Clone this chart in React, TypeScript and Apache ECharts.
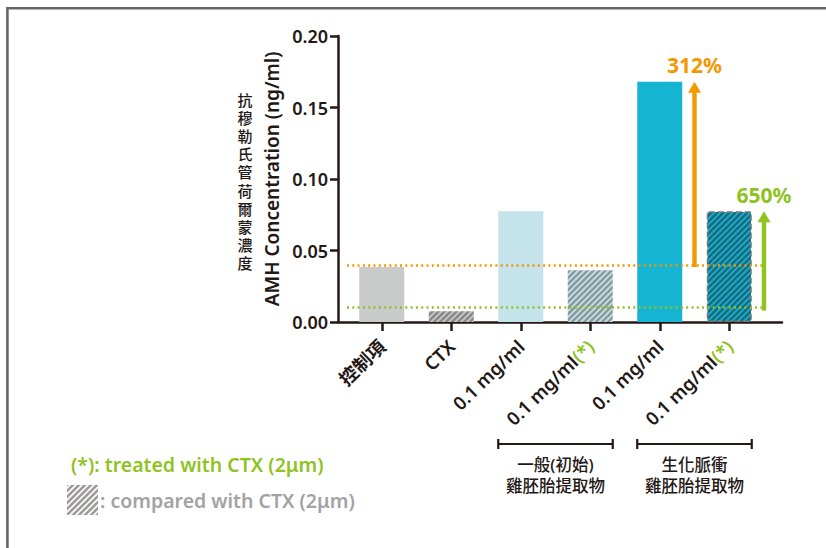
import React, { useEffect, useRef } from "react";
import * as echarts from "echarts";

const categories = ["控制項", "CTX", "0.1 mg/ml", "0.1 mg/ml(*)", "0.1 mg/ml", "0.1 mg/ml(*)"];
const amhValues = [0.0385, 0.0075, 0.0775, 0.0362, 0.168, 0.0775];
const yMin = 0;
const yMax = 0.2;
const yInterval = 0.05;
const controlLevel = 0.0385;
const ctxLevel = 0.008;
const arrowCategory = [4, 5];
const arrowFrom = [0.0385, 0.008];
const arrowTo = [0.168, 0.0775];
const arrowLabels = ["312%", "650%"];
const groupStart = [2, 4];
const groupEnd = [3, 5];
const groupLine1 = ["一般(初始)", "生化脈衝"];
const groupLine2 = ["雞胚胎提取物", "雞胚胎提取物"];
const yTitle = "AMH Concentration (ng/ml)";
const yTitleZh = "抗穆勒氏管荷爾蒙濃度";
const noteTreated = "(*): treated with CTX (2μm)";
const noteCompared = ": compared with CTX (2μm)";

const AXIS = "#231815";
const ORANGE = "#f39800";
const GREEN = "#8fc31f";
const FONT = '"Noto Sans", "Noto Sans CJK TC", sans-serif';
const W = 600;
const BAR_WIDTH = 45;

function stripes(bg: string, fg: string, size = 6, lw = 2.6) {
  const c = document.createElement("canvas");
  c.width = size;
  c.height = size;
  const ctx = c.getContext("2d")!;
  ctx.fillStyle = bg;
  ctx.fillRect(0, 0, size, size);
  ctx.strokeStyle = fg;
  ctx.lineWidth = lw;
  ctx.lineCap = "square";
  for (const k of [-size, 0, size]) {
    ctx.beginPath();
    ctx.moveTo(k, size);
    ctx.lineTo(k + size, 0);
    ctx.stroke();
  }
  return { image: c, repeat: "repeat" } as any;
}

export default function App() {
  const ref = useRef<HTMLDivElement>(null);
  useEffect(() => {
    const chart = echarts.init(ref.current!, null, { renderer: "svg" });
    const barStyles = [
      { color: "#c9caca" },
      { color: stripes("#c9c9c9", "#898989") },
      { color: "#c4e3ea" },
      { color: stripes("#c4e3ea", "#8a999c") },
      { color: "#14b4d2" },
      { color: stripes("#14b4d2", "#1d6a7e"), borderColor: "#777", borderWidth: 1.5, borderType: "dashed" },
    ];
    const arrowColors = [ORANGE, GREEN];
    const zhChars = yTitleZh.split("").map((ch, i) => ({
      type: "text",
      x: 245,
      y: 100 + i * 18.1,
      style: { text: ch, fill: AXIS, font: `500 15px ${FONT}`, align: "center", verticalAlign: "middle" },
    }));
    chart.setOption({
      animation: false,
      grid: [
        { left: 347, right: 62, top: 36, bottom: 226 },
        { left: 338, right: 44, top: 36, bottom: 226 },
      ],
      xAxis: [
        {
          type: "category",
          gridIndex: 0,
          data: categories,
          axisLine: { show: false },
          axisTick: { show: true, alignWithLabel: true, length: 9, lineStyle: { color: AXIS, width: 2.5 } },
          axisLabel: {
            interval: 0,
            rotate: 44,
            margin: 21,
            color: AXIS,
            fontSize: 18.5,
            fontWeight: W,
            fontFamily: FONT,
            formatter: (v: string) => v.replace("(*)", "{g|(*)}"),
            rich: { g: { color: GREEN, fontSize: 18.5, fontWeight: W, fontFamily: FONT } },
          },
        },
        {
          type: "value",
          gridIndex: 1,
          min: 0,
          max: 1,
          axisLine: { show: true, lineStyle: { color: AXIS, width: 2.5 } },
          axisTick: { show: false },
          axisLabel: { show: false },
          splitLine: { show: false },
        },
      ],
      yAxis: [
        { type: "value", gridIndex: 0, min: yMin, max: yMax, interval: yInterval, show: false },
        {
          type: "value",
          gridIndex: 1,
          min: yMin,
          max: yMax,
          interval: yInterval,
          axisLine: { show: true, lineStyle: { color: AXIS, width: 2.5 } },
          axisTick: { show: true, length: 8, lineStyle: { color: AXIS, width: 2.5 } },
          axisLabel: { color: AXIS, fontSize: 18, fontWeight: W, fontFamily: FONT, margin: 10, formatter: (v: number) => v.toFixed(2) },
          splitLine: { show: false },
          name: yTitle,
          nameLocation: "middle",
          nameRotate: 90,
          nameGap: 57,
          nameTextStyle: { color: AXIS, fontSize: 19, fontWeight: W, fontFamily: FONT },
        },
      ],
      series: [
        {
          type: "bar",
          xAxisIndex: 0,
          yAxisIndex: 0,
          barWidth: BAR_WIDTH,
          data: amhValues.map((v, i) => ({ value: v, itemStyle: barStyles[i] })),
          markLine: {
            silent: true,
            symbol: "none",
            label: { show: false },
            data: [
              { yAxis: controlLevel, lineStyle: { color: ORANGE, type: [2, 3.3], width: 2.5 } },
              { yAxis: ctxLevel, lineStyle: { color: GREEN, type: [2, 3.3], width: 2.5 } },
            ],
          },
          z: 2,
        },
        {
          type: "custom",
          xAxisIndex: 0,
          yAxisIndex: 0,
          z: 5,
          data: arrowCategory.map((c, i) => [c, arrowFrom[i], arrowTo[i]]),
          renderItem: (params: any, api: any) => {
            const i = params.dataIndex;
            const col = arrowColors[i];
            const p0 = api.coord([api.value(0), api.value(1)]);
            const p1 = api.coord([api.value(0), api.value(2)]);
            const bw = api.size([1, 0])[0];
            const x = p0[0] + bw / 2;
            const headH = 11;
            return {
              type: "group",
              children: [
                { type: "rect", shape: { x: x - 2.2, y: p1[1] + headH - 1, width: 4.4, height: p0[1] - p1[1] - headH + 1 }, style: { fill: col } },
                { type: "polygon", shape: { points: [[x - 6.5, p1[1] + headH], [x + 6.5, p1[1] + headH], [x, p1[1]]] }, style: { fill: col } },
                { type: "text", x: x, y: p1[1] - 6, style: { text: arrowLabels[i], fill: col, font: `bold 21px ${FONT}`, align: "center", verticalAlign: "bottom" } },
              ],
            };
          },
        },
        {
          type: "custom",
          xAxisIndex: 0,
          yAxisIndex: 0,
          z: 5,
          data: groupStart.map((s, i) => [s, 0, groupEnd[i]]),
          renderItem: (params: any, api: any) => {
            const i = params.dataIndex;
            const pa = api.coord([api.value(0), 0]);
            const pb = api.coord([api.value(2), 0]);
            const xl = pa[0] - BAR_WIDTH / 2;
            const xr = pb[0] + BAR_WIDTH / 2;
            const y = pa[1] + 122;
            const ls = { stroke: AXIS, lineWidth: 2.2 };
            const tf = `500 16.5px ${FONT}`;
            return {
              type: "group",
              children: [
                { type: "line", shape: { x1: xl, y1: y, x2: xr, y2: y }, style: ls },
                { type: "line", shape: { x1: xl, y1: y - 5, x2: xl, y2: y + 5 }, style: ls },
                { type: "line", shape: { x1: xr, y1: y - 5, x2: xr, y2: y + 5 }, style: ls },
                { type: "text", x: (xl + xr) / 2, y: y + 20.5, style: { text: groupLine1[i], fill: AXIS, font: tf, align: "center", verticalAlign: "middle" } },
                { type: "text", x: (xl + xr) / 2, y: y + 41.5, style: { text: groupLine2[i], fill: AXIS, font: tf, align: "center", verticalAlign: "middle" } },
              ],
            };
          },
        },
      ],
      graphic: [
        { type: "line", shape: { x1: 6, y1: 8.2, x2: 826, y2: 8.2 }, style: { stroke: "#666", lineWidth: 2.6 } },
        { type: "line", shape: { x1: 7.4, y1: 7, x2: 7.4, y2: 548 }, style: { stroke: "#666", lineWidth: 2.6 } },
        ...zhChars,
        { type: "text", x: 71, y: 464, style: { text: noteTreated, fill: GREEN, font: `${W} 19.5px ${FONT}`, verticalAlign: "middle" } },
        { type: "rect", shape: { x: 67, y: 485, width: 31, height: 30 }, style: { fill: stripes("#ffffff", "#9e9a9a") } },
        { type: "text", x: 100, y: 500, style: { text: noteCompared, fill: "#a3a3a3", font: `${W} 19.5px ${FONT}`, verticalAlign: "middle" } },
      ],
    });
    return () => chart.dispose();
  }, []);
  return <div ref={ref} style={{ position: "fixed", left: 0, top: 0, width: 826, height: 548, background: "#fff" }} />;
}
